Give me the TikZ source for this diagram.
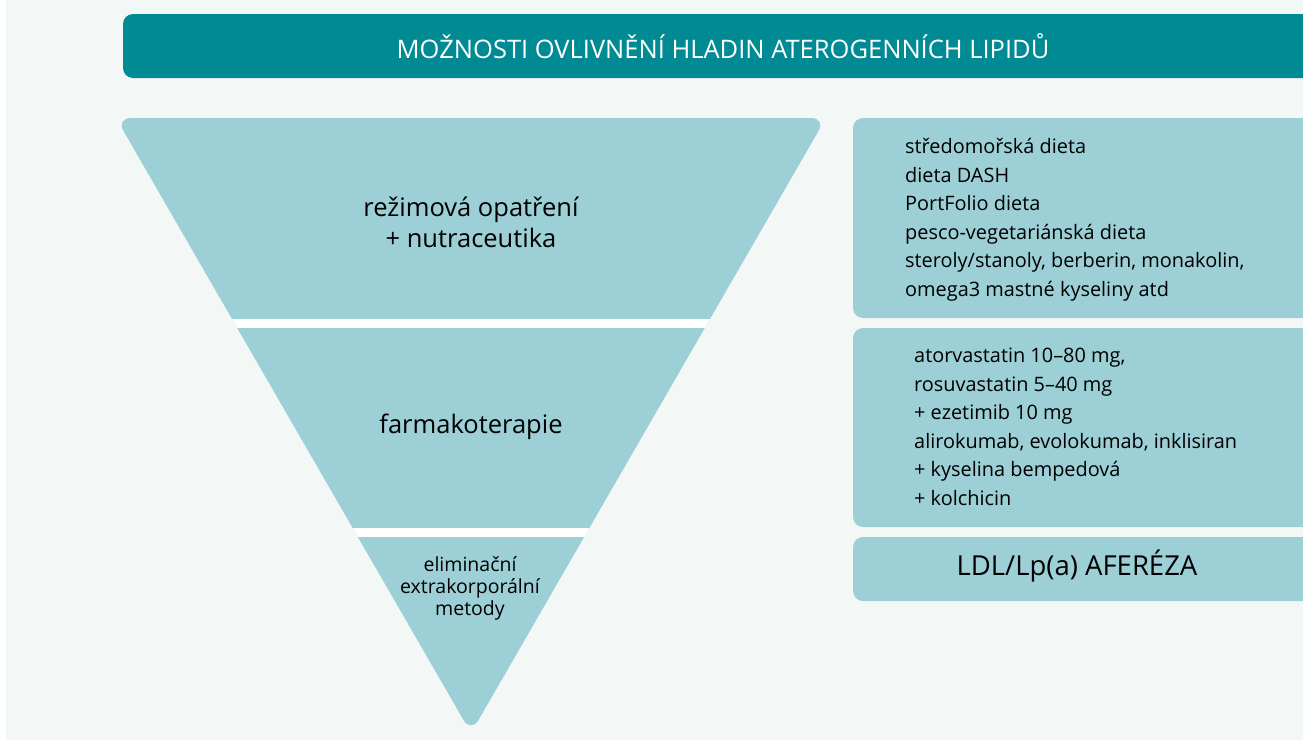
\documentclass[tikz,border=0pt]{standalone}
\usepackage{fontspec}
\setmainfont{Open Sans}
\definecolor{titlecol}{HTML}{008A94}
\definecolor{layercol}{HTML}{9DCFD6}
\definecolor{bgcol}{HTML}{F3F8F7}
\begin{document}
\begin{tikzpicture}[x=1pt,y=-1pt,
  layerbox/.style={fill=layercol},
  listtext/.style={inner sep=0pt,anchor=west,align=left,text=black,font=\fontsize{19.9}{28.5}\selectfont},
  layertext/.style={inner sep=0pt,align=center,text=black}]
\useasboundingbox (0,0) rectangle (1303,740);
\fill[white] (0,0) rectangle (1303,740);
\fill[bgcol] (6,0) rectangle (1303,740);
% title bar
\fill[titlecol,rounded corners=10pt] (123,14) rectangle (1340,78);
\node[text=white,inner sep=0pt,font=\fontsize{25.5}{28}\selectfont] (title) at (723,46) {MOŽNOSTI OVLIVNĚNÍ HLADIN ATEROGENNÍCH LIPIDŮ};
% triangle
\fill[layerbox,rounded corners=15pt] (116,118) -- (826,118) -- (471,733) -- cycle;
\begin{scope}
\clip (116,118) -- (826,118) -- (471,733) -- cycle;
\fill[white] (100,318.5) rectangle (840,327.5);
\fill[white] (100,528) rectangle (840,536.5);
\end{scope}
\node[layertext,font=\fontsize{25.5}{31}\selectfont] (l1) at (471,222) {režimová opatření\\+ nutraceutika};
\node[layertext,font=\fontsize{25.5}{31}\selectfont] (l2) at (471,427) {farmakoterapie};
\node[layertext,font=\fontsize{19.5}{22}\selectfont] (l3) at (470,588) {eliminační\\extrakorporální\\metody};
% right boxes
\fill[layerbox,rounded corners=10pt] (853,118) rectangle (1340,318);
\fill[layerbox,rounded corners=10pt] (853,328) rectangle (1340,527);
\fill[layerbox,rounded corners=10pt] (853,537) rectangle (1340,601);
\node[listtext] (r1) at (905,220) {středomořská dieta\\dieta DASH\\PortFolio dieta\\pesco-vegetariánská dieta\\steroly/stanoly, berberin, monakolin,\\omega3 mastné kyseliny atd};
\node[listtext] (r2) at (914,427) {atorvastatin 10–80 mg,\\rosuvastatin 5–40 mg\\+ ezetimib 10 mg\\alirokumab, evolokumab, inklisiran\\+ kyselina bempedová\\+ kolchicin};
\node[inner sep=0pt,text=black,font=\fontsize{27.5}{30}\selectfont] (r3) at (1077,566) {LDL/Lp(a) AFERÉZA};
\end{tikzpicture}
\end{document}
